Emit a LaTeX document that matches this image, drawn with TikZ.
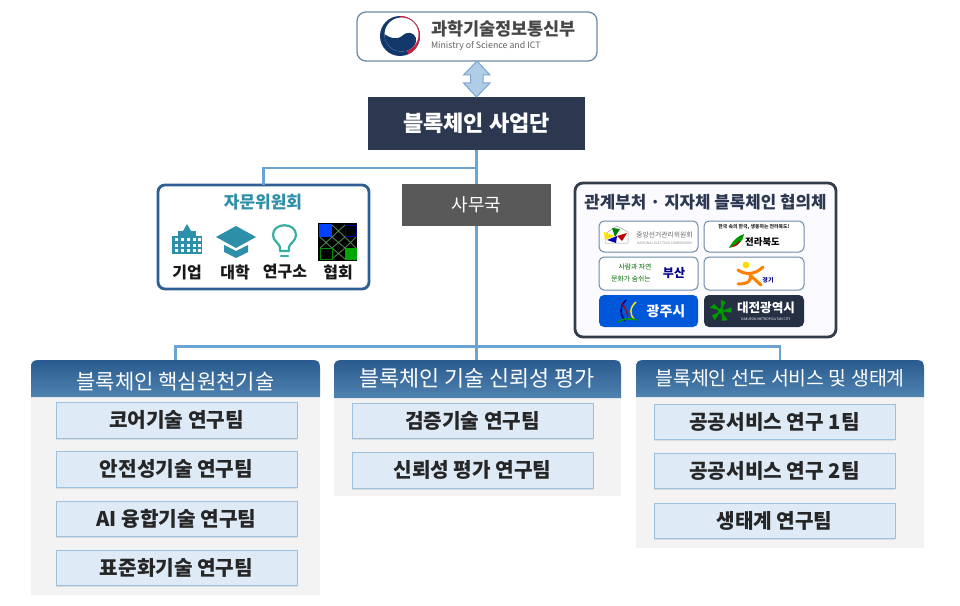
\documentclass[tikz,border=0pt]{standalone}
\usepackage{fontspec}
\setmainfont{Noto Sans CJK KR}
\usetikzlibrary{shadows}
\newdimen\upx \upx=0.75pt
\definecolor{navy}{HTML}{2C3850}
\definecolor{wire}{HTML}{6BA3D3}
\definecolor{teal}{HTML}{2E8FA8}
\definecolor{frameblue}{HTML}{2F5F92}
\definecolor{framedark}{HTML}{333D4A}
\definecolor{panelbg}{HTML}{F3F3F3}
\definecolor{teamfill}{HTML}{DEEAF6}
\definecolor{teamline}{HTML}{9DC1DC}
\definecolor{hdtop}{HTML}{2A5A8E}
\definecolor{hdbot}{HTML}{4F83B0}
\definecolor{logoline}{HTML}{6F8BA3}
\definecolor{emblue}{HTML}{12386B}
\definecolor{emred}{HTML}{C8213F}
\definecolor{arrowfill}{HTML}{B0CDE8}
\definecolor{arrowline}{HTML}{7BA5CC}
\definecolor{bulbc}{HTML}{35B0A0}
\newcommand{\fs}[1]{\fontsize{#1\upx}{#1\upx}\selectfont}
\newcommand{\bx}[7]{%
  \pgfmathsetmacro{\bw}{#4-#2}\pgfmathsetmacro{\bh}{#5-#3}%
  \pgfmathsetmacro{\cx}{(#2+#4)/2}\pgfmathsetmacro{\cy}{(#3+#5)/2}%
  \node[#6,minimum width=\bw\upx,minimum height=\bh\upx] (#1) at (\cx,\cy) {#7};}
\newcommand{\headerbar}[3]{%
  \shade[top color=hdtop,bottom color=hdbot]
    (#1,#3) -- (#1,368) .. controls (#1,362) and (#1+2,360) .. (#1+8,360) -- (#2-8,360)
    .. controls (#2-2,360) and (#2,362) .. (#2,368) -- (#2,#3) -- cycle;}
\tikzset{
  x=0.75pt,y=-0.75pt,
  base/.style={inner sep=0pt,outer sep=0pt,align=center},
  wireline/.style={draw=wire,line width=2.5\upx},
  panel/.style={base,fill=panelbg},
  team/.style={base,fill=teamfill,draw=teamline,line width=.9\upx,font=\bfseries\fs{20.2},text=black!85,
    drop shadow={opacity=.2,shadow xshift=0pt,shadow yshift=-2\upx}},
  headtxt/.style={base,text=white},
  logobox/.style={base,fill=white,draw=logoline,line width=1\upx,rounded corners=5\upx},
  iconlab/.style={base,font=\bfseries\fs{16},text=black!90},
  lattice/.style={draw=green!30!black!70!white,line width=.9\upx},
}
\begin{document}
\begin{tikzpicture}
\useasboundingbox (0,0) rectangle (960,606);
\fill[white] (0,0) rectangle (960,606);

\bx{title}{368}{97}{585}{150}{base,fill=navy,text=white,font=\bfseries\fs{22}}{블록체인 사업단}
\bx{advice}{158}{185}{369}{289}{base,fill=white,draw=frameblue,line width=2.8\upx,rounded corners=7\upx}{}
\bx{leftp}{31}{360}{320}{595}{panel}{}
\bx{midp}{334}{360}{621}{496}{panel}{}
\bx{rightp}{636}{360}{924}{548}{panel}{}
\coordinate (hubtop) at (476.5,168);
\coordinate (hubbot) at (476.5,346.5);
\draw[wireline] (title.south) -- (title.south |- midp.north);
\draw[wireline] (hubtop) -| (advice.north);
\draw[wireline] (leftp.north) |- (hubbot) -| (rightp.north);
\bx{sec}{402}{184}{551}{226}{base,fill=black!65,text=white,font=\fs{18}}{사무국}

% ministry
\bx{msit}{357}{12}{597}{61}{base,fill=white,draw=logoline,line width=1.3\upx,rounded corners=9\upx}{}
\fill[emblue] (400,36) circle[radius=20];
\fill[emred] (400,36) -- ++(-90:20) arc[start angle=-90,end angle=65,radius=20] -- cycle;
\fill[white] (401.5,34.5) circle[radius=17];
\begin{scope}
\clip (401.5,34.5) circle[radius=17];
\fill[emblue] (380,30) .. controls (386,37) and (396,41) .. (402,36) .. controls (407,31) and (414,32) .. (416,38) .. controls (417,44) and (412,50) .. (408,56) -- (380,56) -- cycle;
\end{scope}
\node[base,anchor=west,text=black!72,font=\bfseries\fs{17.5}] (msitko) at (431,29) {과학기술정보통신부};
\node[base,anchor=west,text=black!62,font=\fs{8.8}] (msiten) at (431,46) {Ministry of Science and ICT};

% double arrow
\path (msit.south) coordinate (da1) (title.north) coordinate (da2);
\draw[fill=arrowfill,draw=arrowline,line width=1\upx,line join=miter]
  (da1) -- ++(13,14) -- ++(-7,0) -- ++(0,8) -- ++(7,0) -- (da2)
  -- ++(-13,-14) -- ++(7,0) -- ++(0,-8) -- ++(-7,0) -- cycle;

% advisory
\node[base,text=teal,font=\bfseries\fs{17}] (advt) at (263,202) {자문위원회};
% building
\fill[teal] (172,254) rectangle (202,236);
\fill[teal] (178,254) rectangle (196,231);
\fill[teal] (183,231) -- (187,224) -- (191,231) -- cycle;
\foreach \xa in {175,181,187,193,198}{\foreach \ya in {241,247,252}{\fill[white] (\xa,\ya) rectangle ++(2.6,-3);}}
% cap
\fill[teal] (216,237) -- (236,226) -- (256,237) -- (236,248) -- cycle;
\fill[teal] (224,245) -- (236,251) -- (248,245) -- (248,252) -- (236,258) -- (224,252) -- cycle;
% bulb
\draw[bulbc,line width=2.2\upx,line cap=round,line join=round] (280,251) -- (280,247) .. controls (279,243) and (273,241) .. (273,235)
  .. controls (273,222) and (296,222) .. (296,235) .. controls (296,241) and (290,243) .. (289,247) -- (289,251) -- cycle;
\draw[bulbc,line width=2.2\upx,line cap=round] (281,256) -- (288,256);
% pattern
\fill[black] (318,223) rectangle (357,261);
\draw[lattice] (332,225) -- (345,237) (345,225) -- (332,237) (332,248) -- (345,259) (345,248) -- (332,259)
  (320,237) -- (332,248) (332,237) -- (320,248) (345,237) -- (356,248) (356,237) -- (345,248)
  (332,237) -- (345,248) (345,237) -- (332,248);
\fill[blue!75!cyan] (319,224) rectangle (332,237);
\draw[blue!60!black,line width=.9\upx] (345,225) rectangle (356,236);
\draw[green!55!black,line width=.9\upx] (320,248) rectangle (332,259);
\fill[green!65!black] (345,248) rectangle (356.5,260);
\node[iconlab] (l1) at (187,272) {기업};
\node[iconlab] (l2) at (235,272) {대학};
\node[iconlab] (l3) at (285,272) {연구소};
\node[iconlab] (l4) at (338,272) {협회};

% council
\bx{council}{575}{183}{836}{337}{base,fill=black!3!blue!2!white,draw=framedark,line width=2.8\upx,rounded corners=8\upx}{}
\node[base,text=navy,font=\bfseries\fs{16.8}] (cout) at (705.5,202) {관계부처 · 지자체 블록체인 협의체};
\bx{lg1}{599}{221}{698}{252}{logobox}{}
\bx{lg2}{704}{221}{804}{252}{logobox}{}
\bx{lg3}{599}{257}{698}{290}{logobox}{}
\bx{lg4}{704}{257}{804}{290}{logobox}{}
\bx{lg5}{599}{295}{698}{327}{base,fill=blue!60!cyan!85!black,rounded corners=5\upx}{}
\bx{lg6}{704}{295}{804}{327}{base,fill=navy!85!black,rounded corners=5\upx}{}
% logo 1
\draw[black!35,line width=.5\upx] (605,243) -- (605,234) -- (617,226) -- (628,232) -- (628,243) -- cycle;
\fill[yellow!85!orange] (604,232) -- (614,236) -- (605,240) -- cycle;
\fill[green!50!black] (612,228) -- (620,229) -- (615,237) -- cycle;
\fill[blue!70!black] (607,240) -- (617,236) -- (616,243) -- cycle;
\fill[red!75!black] (617,236) -- (627,233) -- (622,241) -- cycle;
\node[base,text=black!60,font=\fs{6.8}] (lt1) at (664.5,235) {중앙선거관리위원회};
\node[base,text=black!45,font=\fs{3.4}] (lt1b) at (664.5,243) {NATIONAL ELECTION COMMISSION};
% logo 2
\node[base,text=black!85,font=\bfseries\fs{4.9}] (lt2a) at (754,227) {한국 속의 한국, 생동하는 전라북도!};
\fill[green!60!black] (729,248) .. controls (733,240) and (738,236) .. (744,234) .. controls (744,240) and (738,246) .. (729,248);
\fill[red!75!black] (731,247) .. controls (735,245) and (738,243) .. (740,240) .. controls (740,244) and (736,247) .. (731,247);
\node[base,text=black,font=\bfseries\fs{9.4}] (lt2) at (762.5,242) {전라북도};
% logo 3
\node[base,text=green!40!black,font=\fs{6.8}] (lt3a) at (635,267) {사람과 자연};
\node[base,text=green!40!black,font=\fs{6.8}] (lt3b) at (631,279) {문화가 숨쉬는};
\node[base,text=blue!55!black,font=\bfseries\fs{12}] (lt3) at (674,273) {부산};
% logo 4
\draw[orange,line width=3\upx,line cap=round] (738,270) .. controls (745,275) and (755,275) .. (763,267);
\draw[orange,line width=3\upx,line cap=round] (750,274) .. controls (752,280) and (749,284) .. (738,284);
\draw[orange,line width=3\upx,line cap=round] (751,276) -- (761,285);
\fill[yellow!80!orange] (746,265) circle[radius=3.4];
\node[base,text=blue!50!black,font=\bfseries\fs{6}] (lt4) at (768,280) {경기};
% logo 5
\draw[blue!50!black,line width=1.5\upx] (626,300) .. controls (619,307) and (620,314) .. (625,321);
\draw[yellow!80!orange,line width=1.5\upx] (636,302) .. controls (629,308) and (630,315) .. (634,319);
\draw[green!60!black,line width=1.5\upx] (618,322) .. controls (625,318) and (630,318) .. (637,320);
\draw[red!70!black,line width=1.2\upx] (622,303) .. controls (625,308) and (627,312) .. (628,317);
\node[base,text=white,font=\bfseries\fs{14}] (lt5) at (666,311) {광주시};
% logo 6
\fill[green!60!black] (721,311) circle[radius=3];
\foreach \an in {-90,-18,54,126,198}{\fill[green!60!black] (721,311) -- ++(\an+28:10) -- ++(\an-62:5.5) -- cycle;}
\node[base,text=white,font=\bfseries\fs{12.6}] (lt6) at (766,308) {대전광역시};
\node[base,text=white!70,font=\fs{3.4}] (lt6b) at (766,319) {DAEJEON METROPOLITAN CITY};

% panels
\headerbar{31}{320}{397}
\headerbar{334}{621}{398}
\headerbar{636}{924}{397}
\node[headtxt,font=\fs{21}] (h1) at (175.5,382) {블록체인 핵심원천기술};
\node[headtxt,font=\fs{21.8}] (h2) at (477,378) {블록체인 기술 신뢰성 평가};
\node[headtxt,font=\fs{19.4}] (h3) at (780,378) {블록체인 선도 서비스 및 생태계};

\bx{t11}{56}{402}{297}{438}{team}{코어기술 연구팀}
\bx{t12}{56}{451}{297}{487}{team}{안전성기술 연구팀}
\bx{t13}{56}{501}{297}{536}{team}{AI 융합기술 연구팀}
\bx{t14}{56}{550}{297}{585}{team}{표준화기술 연구팀}
\bx{t21}{352}{403}{593}{438}{team}{검증기술 연구팀}
\bx{t22}{352}{452}{593}{488}{team}{신뢰성 평가 연구팀}
\bx{t31}{654}{404}{895}{439}{team}{공공서비스 연구 1팀}
\bx{t32}{654}{453}{895}{488}{team}{공공서비스 연구 2팀}
\bx{t33}{654}{503}{895}{538}{team}{생태계 연구팀}
\end{tikzpicture}
\end{document}
